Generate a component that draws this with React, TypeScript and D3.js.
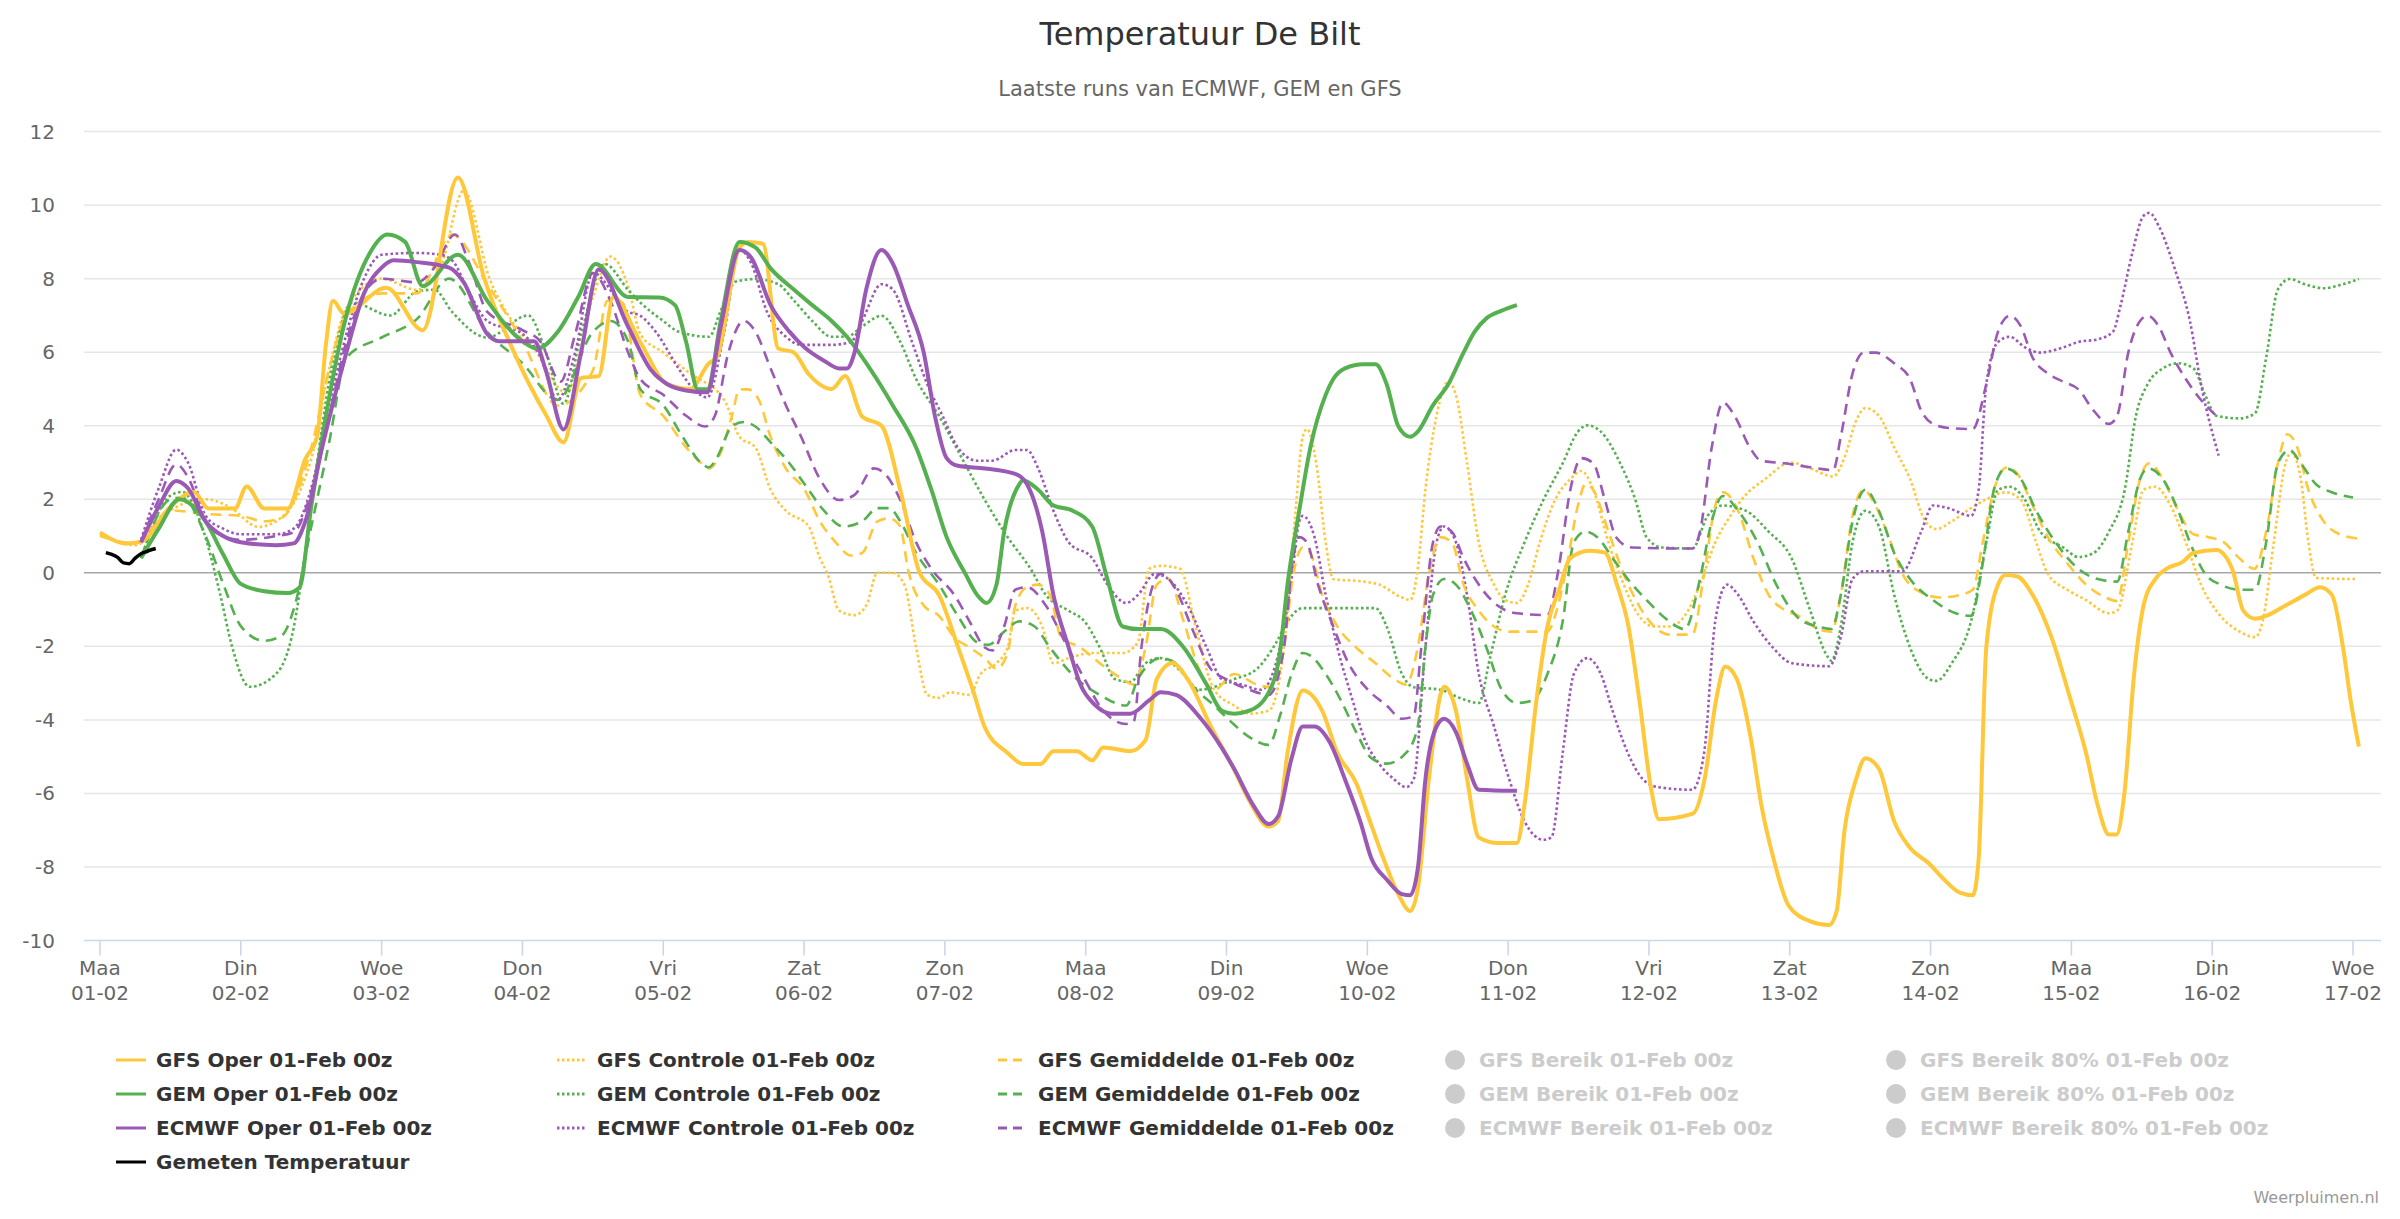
import React, { useRef, useEffect } from 'react';
import * as d3 from 'd3';

type Pt = [number, number];

// hours after 01-02 00z, temperature in °C
const gfsOper: Pt[] = [
  [0, 1.1], [4.5, 0.8], [7, 0.85], [12, 1.8], [16, 2.2], [18.5, 1.75], [23, 1.75], [25, 2.35], [28, 1.75], [32, 1.75],
  [35, 3.1], [37, 3.7], [38.5, 6.2], [39.7, 7.4], [41.6, 7.05], [48.8, 7.75], [55, 6.6], [61, 10.75], [65.5, 8.0], [70, 6.2],
  [76, 4.3], [79, 3.55], [82, 5.3], [85, 5.35], [87.5, 7.5], [92, 6.3], [96.7, 5.13], [100.6, 5.0], [103.8, 5.7], [105.1, 5.85],
  [109, 8.85], [110.4, 9.0], [113, 8.95], [115.6, 6.1], [118.2, 6.0], [120.8, 5.4], [124.7, 5.0], [127, 5.35], [129.9, 4.25], [133.2, 4.0],
  [136.4, 2.25], [139.7, 0], [143, -0.6], [146.2, -2.0], [148.8, -3.2], [150.8, -4.2], [154.7, -4.9], [157.3, -5.2], [160.3, -5.2], [162.5, -4.85],
  [166.5, -4.85], [169.1, -5.1], [171, -4.75], [175.6, -4.85], [178.2, -4.55], [180.1, -2.9], [182.8, -2.45], [185.4, -2.9], [189.4, -4.2], [193.3, -5.35],
  [195.9, -6.2], [199.2, -6.9], [200.8, -6.75], [202.4, -4.9], [205, -3.2], [208.3, -3.75], [210.9, -4.9], [214.2, -5.75], [216.1, -6.6], [218.7, -7.75],
  [221.3, -8.75], [223.3, -9.2], [224.6, -8.6], [226.5, -5.6], [228.5, -3.3], [229.1, -3.1], [231.1, -3.75], [233, -5.6], [235, -7.2], [238.3, -7.35],
  [241.5, -7.35], [242.8, -6.3], [244.8, -3.5], [246.7, -1.45], [248.7, -0.45], [250.6, 0.4], [253.9, 0.6], [256.5, 0.55], [258.5, -0.3], [260.5, -1.45],
  [262.4, -3.5], [264.4, -5.9], [265.7, -6.7], [271.5, -6.55], [273.5, -5.6], [275.4, -3.5], [277, -2.55], [279, -2.9], [281.3, -4.45], [283.2, -6.35],
  [285.2, -7.75], [287.8, -9.05], [291.5, -9.48], [294.7, -9.58], [296, -9.2], [297.3, -7.05], [299.3, -5.62], [300.9, -5.04], [303.2, -5.33], [305.8, -6.76],
  [308.5, -7.48], [311.7, -7.9], [314.3, -8.34], [317, -8.7], [319.2, -8.77], [320.2, -7.77], [321.5, -2.03], [323.5, -0.32], [324.8, -0.06], [326.8, -0.1],
  [329.4, -0.6], [332.6, -1.75], [335.9, -3.47], [338.5, -4.9], [340.5, -6.33], [342.4, -7.12], [343.7, -7.12], [345, -6.05], [346.7, -2.75], [348.3, -0.89],
  [350.3, -0.17], [352.2, 0.11], [354.9, 0.29], [356.8, 0.54], [360.7, 0.62], [363.4, 0.11], [365.3, -1.03], [367.3, -1.25], [369.2, -1.17], [372.5, -0.89],
  [375.8, -0.6], [378.4, -0.39], [380.4, -0.6], [382.3, -2.03], [383.6, -3.47], [385, -4.73],
];

const gfsControle: Pt[] = [
  [0, 1.05], [6, 0.75], [12, 1.7], [18, 2.0], [22, 1.8], [27, 1.25], [30, 1.4], [36, 3.1], [39, 5.5], [42, 7.2],
  [48, 8.0], [54, 7.7], [58, 8.3], [62, 10.4], [66.4, 8.0], [70, 6.9], [74, 6.1], [79.5, 4.9], [84, 7.5], [87, 8.6],
  [90, 7.8], [92.1, 6.49], [96, 5.99], [100.6, 5.42], [106.4, 4.7], [109, 3.7], [111.7, 3.41], [114.3, 2.26], [116.9, 1.69], [120.8, 1.26],
  [122.7, 0.4], [124, -0.03], [126, -1.03], [128.6, -1.15], [130.6, -0.89], [132.5, 0], [135.1, 0], [137.1, -0.32], [139.1, -2.03], [141, -3.32],
  [143, -3.4], [144.9, -3.25], [148.2, -3.32], [150.1, -2.75], [152.8, -2.46], [154.7, -2.03], [156, -1.03], [158, -0.96], [160.6, -1.46], [162.5, -2.46],
  [165.1, -2.32], [169.1, -2.18], [174.3, -2.18], [176.9, -1.89], [178.8, 0.11], [180.8, 0.19], [184.1, 0.11], [186.7, -1.46], [189.9, -3.18], [193.3, -3.61],
  [195.9, -3.83], [199.2, -3.75], [201.8, -2.03], [203.7, 1.55], [205, 3.7], [205.7, 3.91], [207.3, 2.98], [208.9, 0.83], [210.2, -0.17], [215.4, -0.24],
  [218, -0.32], [221.9, -0.67], [223.3, -0.74], [224.6, 0.11], [225.9, 2.26], [227.8, 4.27], [229.8, 5.2], [231.1, 4.84], [233, 2.98], [235, 0.83],
  [237.6, -0.32], [239.5, -0.74], [241.5, -0.82], [243.4, -0.32], [245.4, 0.83], [248, 1.98], [250.6, 2.55], [252.5, 2.77], [254.5, 2.26], [257.1, 0.83],
  [259.7, -0.32], [262.3, -1.17], [264.9, -1.46], [267.5, -1.46], [270.1, -1.17], [272.7, -0.32], [275.3, 0.83], [277.9, 1.55], [280.5, 2.12], [283.8, 2.55],
  [288.2, 3.0], [291.5, 2.84], [295.4, 2.62], [297.3, 3.12], [299.3, 4.13], [300.9, 4.48], [303.2, 4.27], [305.8, 3.41], [308.5, 2.55], [311.1, 1.4],
  [313, 1.19], [315.6, 1.4], [318.9, 1.76], [321.5, 2.0], [324.8, 2.19], [327.4, 1.98], [330, 0.83], [332, -0.03], [335.3, -0.46], [338.5, -0.74],
  [342.4, -1.1], [343.8, -1.03], [346.4, 0.83], [348.3, 2.26], [350.3, 2.34], [352.9, 1.83], [355.5, 0.83], [358.1, -0.32], [361.4, -1.17], [364.7, -1.6],
  [367.3, -1.75], [368.6, -1.32], [370.5, 0.83], [372.5, 2.98], [373.5, 3.27], [375.1, 2.55], [376.4, 0.83], [377.7, -0.14], [384.6, -0.17],
];

const gfsGemiddelde: Pt[] = [
  [0, 1.0], [6, 0.8], [12, 1.7], [18, 1.6], [24, 1.55], [28, 1.4], [31, 1.5], [36, 3.4], [39, 5.5], [42, 7.0],
  [48, 7.6], [54, 7.6], [60, 9.2], [66, 7.85], [72, 6.3], [78, 4.55], [84, 5.5], [86.5, 7.4], [89, 7.35], [92.1, 4.84],
  [96, 4.27], [99.9, 3.41], [102.5, 2.98], [103.8, 2.84], [105.8, 3.27], [107.7, 4.27], [109, 4.99], [110.4, 4.99], [112.3, 4.7], [114.3, 3.7],
  [116.9, 2.84], [120.1, 2.26], [122.7, 1.4], [125.4, 0.83], [128, 0.47], [129.9, 0.54], [132.5, 1.4], [134.5, 1.48], [136.4, 1.26], [137.7, 0.11],
  [140.4, -0.89], [143, -1.17], [145.6, -1.75], [148.2, -2.03], [150.8, -2.32], [152.8, -2.61], [154.7, -2.18], [156, -0.89], [158, -0.39], [159.9, -0.32],
  [161.9, -0.6], [163.8, -1.75], [167.1, -2.03], [170.4, -2.46], [174.3, -2.89], [176.2, -3.04], [178.2, -2.03], [180.1, -0.32], [182.1, -0.17], [184.7, -1.32],
  [187.3, -2.61], [189.9, -3.18], [193.3, -2.75], [197.2, -3.04], [199.8, -3.11], [201.8, -2.03], [203.4, -0.03], [205, 0.69], [206.3, 0.54], [208.3, -0.6],
  [210.9, -1.46], [214.1, -2.03], [217.4, -2.46], [220.6, -2.89], [222.6, -3.04], [224.6, -2.03], [226.5, -0.03], [228.5, 0.97], [230.4, 0.83], [232.4, -0.32],
  [235, -1.03], [237.6, -1.46], [240.2, -1.6], [246.7, -1.6], [248, -1.17], [249.9, 0.11], [251.9, 1.83], [253.2, 2.41], [254.5, 2.26], [257.1, 1.12],
  [259.7, -0.03], [262.3, -0.89], [264.9, -1.46], [267.5, -1.68], [271.4, -1.68], [273.4, -0.03], [275.3, 1.83], [276.6, 2.19], [279.2, 1.69], [281.8, 0.4],
  [284.4, -0.6], [287, -1.0], [289.5, -1.17], [292.8, -1.53], [295.1, -1.6], [296.7, -0.6], [298.7, 1.55], [300.6, 2.26], [302.6, 1.83], [305.2, 0.83],
  [307.2, -0.03], [310.4, -0.53], [313.7, -0.67], [317, -0.6], [319.2, -0.46], [320.9, 0.83], [322.8, 2.26], [325.1, 2.87], [326.8, 2.69], [329.4, 1.83],
  [332, 0.97], [335.3, 0.26], [338.5, -0.32], [341.8, -0.67], [343.8, -0.77], [345.7, 0.83], [347.7, 2.55], [349.3, 2.98], [351.6, 2.55], [354.2, 1.69],
  [356.8, 1.05], [359.4, 0.97], [362, 0.83], [364.6, 0.4], [367.2, 0.11], [369.2, 1.12], [371.2, 2.98], [372.8, 3.77], [374.5, 3.41], [376.4, 2.26],
  [379, 1.4], [381.7, 1.05], [385, 0.93],
];

const gemOper: Pt[] = [
  [7, 0.4], [10, 1.2], [13.5, 2.0], [18, 1.4], [21, 0.5], [24, -0.3], [28, -0.5], [32, -0.55], [34, -0.4], [36, 1.8],
  [42, 7.0], [46, 8.7], [49, 9.2], [52, 9.0], [55, 7.8], [61, 8.65], [66, 7.4], [72, 6.3], [74.5, 6.1], [78, 6.55],
  [81.5, 7.5], [84.5, 8.4], [90, 7.5], [95.3, 7.49], [98, 7.28], [99.9, 6.28], [101.9, 4.99], [103.5, 4.99], [105.8, 6.85], [109, 9.0],
  [111.7, 8.85], [114.3, 8.28], [118.2, 7.71], [121.4, 7.28], [124.7, 6.85], [127.3, 6.42], [131.2, 5.56], [135.1, 4.56], [139.1, 3.41], [141.7, 2.26],
  [144.3, 0.97], [147.5, -0.03], [149.5, -0.6], [151.1, -0.82], [152.8, -0.32], [154.1, 1.12], [156.7, 2.41], [157.3, 2.52], [159.9, 2.26], [162.5, 1.83],
  [165.8, 1.69], [169.1, 1.26], [171.7, -0.17], [174.3, -1.46], [176.9, -1.53], [180.8, -1.53], [184.7, -2.03], [188.6, -3.04], [191.2, -3.75], [193.3, -3.83],
  [195.9, -3.75], [199.2, -3.25], [201.1, -2.18], [202.4, -0.32], [204.4, 1.69], [206.3, 3.41], [208.9, 4.84], [210.2, 5.27], [212.2, 5.56], [215.4, 5.67],
  [217.4, 5.67], [219.3, 5.13], [221.3, 3.98], [223.3, 3.7], [224.6, 3.84], [227.2, 4.56], [229.8, 5.13], [232.4, 5.99], [234.3, 6.56], [236.3, 6.92],
  [238.9, 7.13], [241.5, 7.28],
];

const gemControle: Pt[] = [
  [7, 0.4], [12, 2.1], [14, 2.2], [17.5, 1.2], [20.5, -0.6], [22.5, -2.0], [25.5, -3.1], [30, -2.75], [33, -1.5], [35, 0.6],
  [36, 1.8], [40, 6.0], [43, 7.35], [49.5, 7.0], [54, 7.65], [57, 7.7], [60, 7.1], [66, 6.4], [73, 7.0], [76, 6.0],
  [79, 4.6], [82, 6.5], [86, 8.4], [90, 7.7], [92.1, 7.35], [96, 6.85], [98.6, 6.56], [103.8, 6.42], [105.8, 7.13], [108.4, 7.92],
  [111.7, 7.99], [115.6, 7.85], [118.2, 7.42], [121.4, 6.85], [124.7, 6.42], [127.3, 6.42], [129.9, 6.7], [133.2, 6.99], [136.4, 6.28], [139.1, 5.27],
  [143, 4.27], [146.9, 3.12], [150.8, 1.98], [154.7, 0.97], [158.6, 0.11], [161.2, -0.6], [165.1, -1.03], [167.8, -1.32], [170.4, -2.03], [173, -2.89],
  [175.6, -2.97], [178.2, -2.46], [180.8, -2.32], [184.7, -2.75], [187.3, -3.18], [193.3, -2.89], [197.2, -2.61], [200.5, -1.89], [202.4, -1.32], [205, -0.96],
  [208.9, -0.96], [217.4, -0.96], [219.3, -1.46], [221.9, -2.75], [223.9, -3.11], [228.5, -3.18], [231.7, -3.4], [235, -3.54], [236.9, -2.32], [239.5, -0.6],
  [242.8, 0.83], [246, 1.98], [249.3, 2.98], [251.9, 3.84], [253.5, 4.01], [255.8, 3.84], [259.1, 2.98], [261.7, 1.98], [263.6, 0.97], [266.2, 0.69],
  [271.4, 0.66], [274, 1.55], [276.6, 1.83], [280.5, 1.69], [284.4, 1.12], [288.3, 0.4], [291.5, -1.03], [294.1, -2.18], [295.1, -2.39], [296.7, -1.46],
  [298.7, 0.83], [300.9, 1.69], [303.2, 1.26], [305.8, -0.6], [308.5, -2.03], [311.7, -2.89], [313, -2.94], [315.6, -2.46], [318.9, -1.32], [321.5, 0.83],
  [323.5, 2.26], [325.5, 2.34], [328.1, 1.98], [330.7, 1.12], [334.6, 0.69], [337.2, 0.43], [339.8, 0.54], [342.4, 1.12], [345.1, 2.26], [347, 4.27],
  [349, 5.13], [351.6, 5.56], [354.2, 5.7], [356.8, 5.56], [358.8, 4.84], [360.7, 4.27], [364.7, 4.2], [367.3, 4.34], [369.2, 5.85], [371.2, 7.71],
  [373.2, 7.99], [375.8, 7.85], [379, 7.74], [382.3, 7.85], [385, 7.99],
];

const gemGemiddelde: Pt[] = [
  [7, 0.4], [12, 2.0], [14, 2.05], [18, 1.0], [21, -0.3], [24, -1.45], [28, -1.85], [31, -1.7], [33, -1.0], [36, 1.25],
  [39, 3.5], [42, 5.85], [48, 6.4], [54, 6.9], [59.5, 8.0], [66, 6.55], [72, 5.7], [78, 4.7], [84, 6.55], [87, 6.85],
  [90, 6.3], [92.1, 4.99], [96, 4.56], [99.3, 3.7], [102.5, 2.98], [103.8, 2.87], [105.1, 3.12], [107.7, 3.98], [109.7, 4.1], [111.7, 3.98],
  [114.3, 3.55], [117.5, 2.98], [120.1, 2.41], [123.4, 1.69], [126.7, 1.26], [129.9, 1.4], [132.5, 1.76], [134.5, 1.76], [136.4, 1.4], [139.1, 0.54],
  [143, -0.32], [146.2, -1.17], [149.5, -1.89], [151.4, -1.96], [154.1, -1.6], [156.7, -1.32], [159.3, -1.46], [161.9, -2.03], [166.5, -2.89], [170.4, -3.32],
  [174.9, -3.61], [176.9, -2.89], [180.8, -2.32], [183.4, -2.46], [186, -3.04], [189.9, -3.61], [192.7, -4.04], [195.9, -4.47], [199.2, -4.68], [201.1, -3.9],
  [203.1, -2.75], [205, -2.18], [206.3, -2.25], [208.9, -2.75], [211.5, -3.47], [214.1, -4.33], [216.7, -5.04], [219.3, -5.19], [222.6, -4.9], [224.6, -4.18],
  [225.9, -2.03], [227.2, -0.6], [229.1, -0.17], [231.1, -0.32], [233.7, -1.03], [236.3, -2.03], [238.9, -3.18], [241.5, -3.54], [244.1, -3.47], [246.7, -2.75],
  [249.3, -1.32], [251.2, 0.83], [253.2, 1.12], [255.2, 0.97], [257.8, 0.4], [260.4, -0.17], [263.6, -0.74], [266.9, -1.25], [270.1, -1.53], [272.7, -0.17],
  [274.7, 1.4], [276.6, 2.09], [279.2, 1.69], [282.5, 0.83], [285.7, -0.32], [289.6, -1.25], [292.8, -1.46], [295.1, -1.53], [296.7, -0.6], [298.7, 1.4],
  [300.9, 2.26], [303.2, 1.69], [305.8, 0.54], [308.5, -0.17], [312.4, -0.74], [316.3, -1.1], [318.9, -1.17], [320.9, 0.26], [322.8, 2.26], [324.8, 2.84],
  [327.4, 2.55], [330, 1.69], [333.3, 0.83], [337.2, 0.11], [340.5, -0.17], [343.8, -0.24], [345.7, 1.12], [347.7, 2.55], [349, 2.84], [351.6, 2.55],
  [354.2, 1.69], [356.2, 0.83], [358.8, -0.03], [361.4, -0.32], [364.7, -0.46], [367.3, -0.46], [369.2, 0.83], [371.2, 2.98], [373.2, 3.34], [375.1, 2.98],
  [377.7, 2.41], [380.4, 2.19], [384, 2.05],
];

const ecmwfOper: Pt[] = [
  [7, 0.83], [10, 1.8], [13, 2.5], [15, 2.3], [18, 1.4], [21, 1.0], [24, 0.83], [30, 0.75], [33, 0.8], [35, 1.4],
  [38, 3.5], [42, 6.0], [45, 7.6], [48, 8.3], [50, 8.5], [54, 8.45], [59.5, 8.3], [62, 7.9], [66, 6.5], [68, 6.3],
  [74, 6.3], [76, 5.5], [79, 3.9], [82, 6.0], [85, 8.25], [90, 6.7], [94, 5.5], [96.7, 5.13], [99.9, 4.96], [103.5, 4.91],
  [105.8, 6.7], [109, 8.78], [111, 8.57], [114.3, 7.28], [117.5, 6.56], [120.1, 6.13], [123.4, 5.77], [126, 5.56], [127.3, 5.56], [128.6, 5.99],
  [130.6, 7.71], [133.2, 8.78], [135.1, 8.42], [137.7, 7.28], [140.4, 5.99], [142.3, 4.27], [144.3, 3.12], [146.2, 2.91], [150.8, 2.84], [156, 2.69],
  [158, 2.41], [160.6, 1.12], [162.5, -0.6], [165.1, -2.03], [167.1, -3.04], [169.7, -3.61], [172.3, -3.83], [175.6, -3.83], [178.8, -3.47], [180.8, -3.25],
  [183.4, -3.32], [187.3, -3.9], [191.2, -4.76], [193.3, -5.33], [196.6, -6.33], [199.2, -6.83], [200.8, -6.62], [203.1, -5.04], [205, -4.18], [207, -4.18],
  [209.6, -4.61], [212.2, -5.62], [214.8, -6.76], [216.7, -7.77], [219.3, -8.34], [221.9, -8.74], [223.3, -8.77], [224.6, -8.05], [225.9, -5.62], [227.8, -4.18],
  [229.1, -3.97], [231.1, -4.33], [233, -5.19], [235, -5.9], [241.5, -5.93],
];

const ecmwfControle: Pt[] = [
  [7, 0.9], [10, 2.3], [13, 3.35], [15, 3.0], [18, 1.55], [21, 1.2], [24, 1.05], [30, 1.05], [33, 1.2], [36, 2.3],
  [39, 4.5], [42, 6.5], [45, 8.0], [48, 8.65], [54, 8.7], [58, 8.65], [60, 8.5], [63, 7.6], [66, 6.85], [72, 6.5],
  [75, 5.9], [78, 4.7], [81, 6.0], [84, 8.15], [90, 7.1], [92.1, 6.99], [94.7, 6.56], [98.6, 5.56], [101.2, 4.99], [103.5, 4.77],
  [106.4, 6.56], [109, 8.78], [111, 8.42], [113.6, 7.13], [116.9, 6.42], [119.5, 6.2], [124.7, 6.2], [128, 6.28], [129.9, 6.85], [133.2, 7.85],
  [135.1, 7.71], [138.4, 6.28], [141, 5.13], [143.6, 4.27], [146.2, 3.41], [149.5, 3.05], [152.1, 3.05], [156, 3.34], [158, 3.34], [159.9, 2.84],
  [162.5, 1.69], [165.1, 0.83], [169.1, 0.4], [171.7, -0.32], [174.9, -0.82], [176.9, -0.6], [179.8, -0.03], [182.1, -0.17], [185.4, -0.89], [188.6, -2.03],
  [191.2, -2.89], [194.6, -3.04], [197.9, -3.18], [201.1, -2.03], [203.1, -0.17], [204.4, 1.4], [205, 1.55], [207, 0.97], [208.9, -0.6], [210.9, -2.03],
  [213.5, -3.47], [215.4, -4.47], [218, -5.19], [220.6, -5.62], [222.6, -5.83], [223.9, -5.62], [225.9, -2.03], [227.8, 0.83], [229.1, 1.26], [231.1, 0.83],
  [233, -0.6], [235, -2.75], [237.6, -4.18], [240.2, -5.62], [242.8, -6.76], [246, -7.26], [247.4, -7.19], [249.3, -4.9], [251.2, -2.75], [253.5, -2.32],
  [255.8, -2.75], [257.8, -3.75], [260.4, -4.9], [263, -5.62], [265.6, -5.83], [271.4, -5.9], [273.4, -4.9], [275.3, -1.32], [277.3, -0.32], [279.2, -0.6],
  [281.8, -1.32], [285.1, -2.03], [288.4, -2.46], [294.7, -2.54], [296.7, -1.75], [298.7, -0.17], [300.6, 0.04], [307.2, 0.04], [310.4, 1.12], [312.4, 1.83],
  [315, 1.76], [318.9, 1.55], [320.2, 2.26], [321.5, 5.13], [323.5, 6.28], [325.5, 6.42], [328.1, 6.13], [330.7, 5.99], [334.6, 6.13], [337.2, 6.28],
  [340.5, 6.35], [343.1, 6.56], [344.4, 7.28], [346.4, 8.71], [348.3, 9.71], [349.3, 9.79], [350.9, 9.43], [353.6, 8.28], [356.2, 6.85], [358.1, 5.13],
  [361.1, 3.19],
];

const ecmwfGemiddelde: Pt[] = [
  [7, 0.85], [10, 2.0], [13, 2.95], [15, 2.6], [18, 1.4], [21, 1.0], [24, 0.9], [30, 1.0], [33, 1.1], [36, 2.2],
  [39, 4.2], [42, 6.3], [45, 7.6], [48, 8.0], [54, 7.9], [57, 8.3], [60.5, 9.2], [63, 8.4], [66, 7.1], [72, 6.6],
  [75, 6.3], [78.5, 5.2], [81, 6.5], [84, 8.15], [87, 7.4], [90, 6.0], [92.1, 5.27], [96, 4.84], [99.9, 4.27], [103.2, 3.98],
  [104.8, 4.27], [107.1, 5.99], [109.7, 6.85], [111.7, 6.56], [114.3, 5.56], [116.9, 4.56], [119.5, 3.7], [122.7, 2.55], [126, 1.98], [128.6, 2.12],
  [131.9, 2.84], [133.8, 2.69], [136.4, 1.98], [139.1, 0.83], [141.7, 0.11], [145.6, -0.6], [148.2, -1.32], [150.8, -2.03], [152.1, -2.11], [154.1, -1.46],
  [156, -0.46], [158, -0.39], [161.2, -0.89], [164.5, -1.89], [167.8, -2.89], [171, -3.75], [174.9, -4.11], [176.2, -4.04], [177.5, -2.03], [179.5, -0.32],
  [180.8, -0.03], [183.4, -0.46], [186, -1.46], [189.3, -2.61], [191.9, -2.89], [195.9, -3.18], [199.2, -3.32], [201.8, -2.03], [203.1, 0.11], [204.4, 0.97],
  [205.7, 0.83], [207.6, -0.32], [210.2, -1.46], [212.8, -2.46], [216.1, -3.18], [219.3, -3.61], [221.9, -3.97], [223.9, -3.9], [225.2, -2.03], [227.2, 0.83],
  [228.5, 1.26], [230.4, 1.12], [232.4, 0.4], [235, -0.32], [238.2, -0.89], [241.5, -1.1], [246.7, -1.15], [248.6, 0.11], [250.6, 2.26], [252.5, 3.12],
  [254.5, 2.98], [256.5, 1.98], [258.4, 0.97], [261, 0.69], [271.4, 0.66], [272.7, 1.12], [274.7, 3.41], [276.6, 4.63], [278.6, 4.27], [281.2, 3.41],
  [283.1, 3.05], [287, 2.98], [292.8, 2.84], [295.4, 2.79], [296.7, 3.7], [298.7, 5.42], [300.6, 5.99], [302.6, 5.99], [305.8, 5.7], [308.5, 5.27],
  [310.4, 4.41], [312.4, 4.05], [315, 3.94], [319.2, 3.91], [321.5, 5.13], [323.5, 6.56], [325.5, 6.99], [327.4, 6.7], [329.4, 5.85], [332, 5.42],
  [334.6, 5.2], [337.2, 4.99], [339.8, 4.41], [342.4, 4.05], [343.8, 4.27], [345.7, 5.99], [347.7, 6.85], [349, 6.99], [350.9, 6.7], [352.9, 5.99],
  [355.5, 5.27], [358.1, 4.7], [360.7, 4.27],
];

const gemeten: Pt[] = [
  [1, 0.55], [2, 0.5], [3, 0.42], [4, 0.27], [5, 0.25], [6, 0.4], [7, 0.52], [8, 0.58], [9, 0.64], [9.5, 0.66],
];

const dayNames = ['Maa', 'Din', 'Woe', 'Don', 'Vri', 'Zat', 'Zon', 'Maa', 'Din', 'Woe', 'Don', 'Vri', 'Zat', 'Zon', 'Maa', 'Din', 'Woe'];
const dayDates = ['01-02', '02-02', '03-02', '04-02', '05-02', '06-02', '07-02', '08-02', '09-02', '10-02', '11-02', '12-02', '13-02', '14-02', '15-02', '16-02', '17-02'];
const yTicks = [-10, -8, -6, -4, -2, 0, 2, 4, 6, 8, 10, 12];

const models = ['GFS', 'GEM', 'ECMWF'];
const runLabel = '01-Feb 00z';

const GFS_COLOR = '#ffc83a';
const GEM_COLOR = '#55b04f';
const ECMWF_COLOR = '#9b59b6';

type Kind = 'solid' | 'dot' | 'dash';

const series: { name: string; data: Pt[]; color: string; kind: Kind }[] = [
  { name: 'GFS Controle', data: gfsControle, color: GFS_COLOR, kind: 'dot' },
  { name: 'GEM Controle', data: gemControle, color: GEM_COLOR, kind: 'dot' },
  { name: 'ECMWF Controle', data: ecmwfControle, color: ECMWF_COLOR, kind: 'dot' },
  { name: 'GFS Gemiddelde', data: gfsGemiddelde, color: GFS_COLOR, kind: 'dash' },
  { name: 'GEM Gemiddelde', data: gemGemiddelde, color: GEM_COLOR, kind: 'dash' },
  { name: 'ECMWF Gemiddelde', data: ecmwfGemiddelde, color: ECMWF_COLOR, kind: 'dash' },
  { name: 'GFS Oper', data: gfsOper, color: GFS_COLOR, kind: 'solid' },
  { name: 'GEM Oper', data: gemOper, color: GEM_COLOR, kind: 'solid' },
  { name: 'ECMWF Oper', data: ecmwfOper, color: ECMWF_COLOR, kind: 'solid' },
  { name: 'Gemeten Temperatuur', data: gemeten, color: '#000000', kind: 'solid' },
];

const W = 2400;
const H = 1219;
const FONT = '"DejaVu Sans", "Lucida Grande", sans-serif';

const dashFor = (k: Kind) => (k === 'dot' ? '2.6,2.6' : k === 'dash' ? '11,7' : null);
const widthFor = (k: Kind) => (k === 'solid' ? 4 : 2.6);

const App: React.FC = () => {
  const svgRef = useRef<SVGSVGElement | null>(null);

  useEffect(() => {
    const svg = d3.select(svgRef.current!);
    svg.selectAll('*').remove();

    const plotLeft = 84;
    const plotRight = 2381;

    const x = d3.scaleLinear().domain([0, 384]).range([100, 2353]);
    const y = d3.scaleLinear().domain([-10, 12]).range([940.5, 131.6]);

    // title
    svg.append('text')
      .attr('x', W / 2).attr('y', 45)
      .attr('text-anchor', 'middle')
      .attr('font-family', FONT).attr('font-size', 32).attr('fill', '#333333')
      .text('Temperatuur De Bilt');
    svg.append('text')
      .attr('x', W / 2).attr('y', 96)
      .attr('text-anchor', 'middle')
      .attr('font-family', FONT).attr('font-size', 21).attr('fill', '#666666')
      .text('Laatste runs van ECMWF, GEM en GFS');

    // grid
    const grid = svg.append('g');
    yTicks.filter((t) => t !== -10).forEach((t) => {
      grid.append('line')
        .attr('x1', plotLeft).attr('x2', plotRight)
        .attr('y1', y(t)).attr('y2', y(t))
        .attr('stroke', t === 0 ? '#a6a6a6' : '#e6e6e6')
        .attr('stroke-width', t === 0 ? 1.6 : 1.5);
    });

    // y labels
    svg.append('g').selectAll('text').data(yTicks).enter().append('text')
      .attr('x', 55).attr('y', (d) => y(d) + 7)
      .attr('text-anchor', 'end')
      .attr('font-family', FONT).attr('font-size', 20).attr('fill', '#666666')
      .text((d) => String(d));

    // x axis
    const xa = svg.append('g');
    xa.append('line')
      .attr('x1', plotLeft).attr('x2', plotRight)
      .attr('y1', y(-10)).attr('y2', y(-10))
      .attr('stroke', '#ccd6eb').attr('stroke-width', 1.6);
    dayNames.forEach((dn, i) => {
      const px = x(i * 24);
      xa.append('line')
        .attr('x1', px).attr('x2', px)
        .attr('y1', y(-10)).attr('y2', y(-10) + 15)
        .attr('stroke', '#ccd6eb').attr('stroke-width', 1.6);
      xa.append('text')
        .attr('x', px).attr('y', 975)
        .attr('text-anchor', 'middle')
        .attr('font-family', FONT).attr('font-size', 20).attr('fill', '#666666')
        .text(dn);
      xa.append('text')
        .attr('x', px).attr('y', 1000)
        .attr('text-anchor', 'middle')
        .attr('font-family', FONT).attr('font-size', 20).attr('fill', '#666666')
        .text(dayDates[i]);
    });

    // lines
    const line = d3.line<Pt>()
      .x((d) => x(d[0]))
      .y((d) => y(d[1]))
      .curve(d3.curveMonotoneX);

    const lg = svg.append('g');
    series.forEach((s) => {
      const p = lg.append('path')
        .datum(s.data)
        .attr('fill', 'none')
        .attr('stroke', s.color)
        .attr('stroke-width', s.name.startsWith('Gemeten') ? 3.5 : widthFor(s.kind))
        .attr('stroke-linejoin', 'round')
        .attr('d', line);
      const da = dashFor(s.kind);
      if (da) p.attr('stroke-dasharray', da);
    });

    // legend
    const legend = svg.append('g');
    const colX = (c: number) => 156 + 441 * c;
    const rowY = (r: number) => 1060 + 34 * r;
    const modelColors = [GFS_COLOR, GEM_COLOR, ECMWF_COLOR];
    const kinds: { label: string; kind: Kind }[] = [
      { label: 'Oper', kind: 'solid' },
      { label: 'Controle', kind: 'dot' },
      { label: 'Gemiddelde', kind: 'dash' },
    ];
    models.forEach((m, r) => {
      kinds.forEach((k, c) => {
        const tx = colX(c);
        const cy = rowY(r);
        const sym = legend.append('line')
          .attr('x1', tx - 40).attr('x2', tx - 10)
          .attr('y1', cy).attr('y2', cy)
          .attr('stroke', modelColors[r])
          .attr('stroke-width', 3);
        if (k.kind === 'dot') sym.attr('stroke-dasharray', '2.5,2.5');
        if (k.kind === 'dash') sym.attr('stroke-dasharray', '9,6');
        legend.append('text')
          .attr('x', tx).attr('y', cy + 7)
          .attr('font-family', FONT).attr('font-size', 20).attr('font-weight', 'bold')
          .attr('fill', '#333333')
          .text(`${m} ${k.label} ${runLabel}`);
      });
      ['Bereik', 'Bereik 80%'].forEach((b, j) => {
        const tx = colX(3 + j);
        const cy = rowY(r);
        legend.append('circle')
          .attr('cx', tx - 24).attr('cy', cy).attr('r', 10)
          .attr('fill', '#cccccc');
        legend.append('text')
          .attr('x', tx).attr('y', cy + 7)
          .attr('font-family', FONT).attr('font-size', 20).attr('font-weight', 'bold')
          .attr('fill', '#cccccc')
          .text(`${m} ${b} ${runLabel}`);
      });
    });
    legend.append('line')
      .attr('x1', colX(0) - 40).attr('x2', colX(0) - 10)
      .attr('y1', rowY(3)).attr('y2', rowY(3))
      .attr('stroke', '#000000').attr('stroke-width', 3);
    legend.append('text')
      .attr('x', colX(0)).attr('y', rowY(3) + 7)
      .attr('font-family', FONT).attr('font-size', 20).attr('font-weight', 'bold')
      .attr('fill', '#333333')
      .text('Gemeten Temperatuur');

    // credits
    svg.append('text')
      .attr('x', 2379).attr('y', 1203)
      .attr('text-anchor', 'end')
      .attr('font-family', FONT).attr('font-size', 16).attr('fill', '#999999')
      .text('Weerpluimen.nl');
  }, []);

  return (
    <svg
      ref={svgRef}
      width={W}
      height={H}
      style={{ position: 'absolute', left: 0, top: 0, background: '#ffffff' }}
    />
  );
};

export default App;
